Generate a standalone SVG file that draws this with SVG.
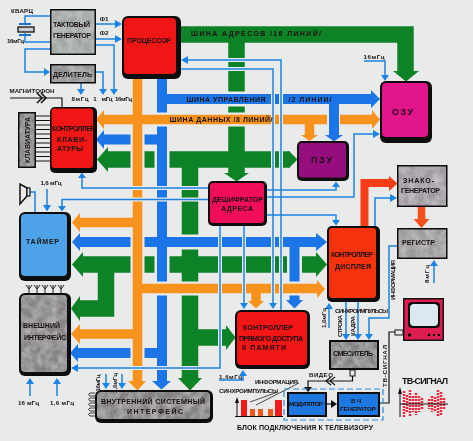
<svg xmlns="http://www.w3.org/2000/svg" width="473" height="441" viewBox="0 0 473 441">
<style>
text{font-family:"Liberation Sans",Arial,sans-serif;font-weight:bold;font-size:7px;fill:#1a1214;text-anchor:middle}
.s{font-size:6.200px}
.m{font-size:9px}
.g{fill:none;stroke:#118226;stroke-width:16.500}
.bl{fill:none;stroke:#1c74e6;stroke-width:10}
.or{fill:none;stroke:#f7931e;stroke-width:9.500}
.hg{fill:none;stroke:#e9eaea;stroke-width:15}
.ho{fill:none;stroke:#e9eaea;stroke-width:14}
.ag{fill:#118226}.ab{fill:#1c74e6}.ao{fill:#f7931e}
.t{fill:none;stroke:#1d84e4;stroke-width:1.500}
.th{fill:none;stroke:#e9eaea;stroke-width:4}
.at{fill:#1d84e4}
.k{fill:none;stroke:#111;stroke-width:1.200}
.o{fill:#0c0c0c}
.gray{filter:url(#mottle)}
</style>
<defs>
<filter id="soft" x="0" y="0" width="100%" height="100%"><feGaussianBlur stdDeviation="0.350"/></filter>
<filter id="mottle" x="0" y="0" width="100%" height="100%">
<feTurbulence type="fractalNoise" baseFrequency="0.120" numOctaves="3" seed="4" result="n"/>
<feColorMatrix in="n" type="matrix" values="0 0 0 0 0.850  0 0 0 0 0.830  0 0 0 0 0.850  0.700 0 0 0 -0.220" result="c"/>
<feComposite in="c" in2="SourceGraphic" operator="atop"/>
</filter>
</defs>
<rect width="473" height="441" fill="#e9eaea"/>
<g filter="url(#soft)">
<g id="connectors">
<g>
<path class="g" d="M181 34.500H405.500V72"/>
<path class="g" d="M236.500 34V174"/>
<path class="g" d="M108 159.500H290"/>
<path class="g" d="M190 167V379"/>
<path class="g" d="M83 264.500H317"/>
<path class="g" d="M106 272V308.500H80"/>
<path class="g" d="M198 337.500H227"/>
<polygon class="ag" points="393,71 419,71 406,81.500"/>
<polygon class="ag" points="224,173 249,173 236.500,181.500"/>
<polygon class="ag" points="108,147 108,172 97,159.500"/>
<polygon class="ag" points="289,151 289,168 297.500,159.500"/>
<polygon class="ag" points="83,252 83,277 72,264.500"/>
<polygon class="ag" points="316,252 316,277 327,264.500"/>
<polygon class="ag" points="80,296 80,321 71,308.500"/>
<polygon class="ag" points="226,325 226,350 235.500,337.500"/>
<polygon class="ag" points="178,378 202,378 190,390.500"/>
</g>
<g>
<path class="hg" d="M162 79V381M104 139.500H162M80 242H317M294.500 247V282M294.500 295V301M162 99H372M334 103V136M78 353H162"/>
<path class="bl" d="M162 79V381"/>
<path class="bl" d="M162 99H372"/>
<path class="bl" d="M334 99V136"/>
<path class="bl" d="M104 139.500H162"/>
<path class="bl" d="M80 242H317"/>
<path class="bl" d="M294.500 242V282"/>
<path class="bl" d="M294.500 295V301"/>
<path class="bl" d="M78 353H162"/>
<polygon class="ab" points="371,90 371,108 380,99"/>
<polygon class="ab" points="325,135 343,135 334,141.500"/>
<polygon class="ab" points="104,130 104,149 96,139.500"/>
<polygon class="ab" points="80,233 80,251 72,242"/>
<polygon class="ab" points="316,233 316,251 327,242"/>
<polygon class="ab" points="78,344 78,362 70,353"/>
<polygon class="ab" points="286,300 303,300 294.500,308.500"/>
<polygon class="ab" points="152,381 171,381 161.500,389.500"/>
</g>
<g>
<path class="ho" d="M137.500 79V382M104 119.500H327M340 119.500H372M80 222.500H137.500M137.500 288.500H317M80 334H137.500M256 293V301M309.500 124V135"/>
<path class="or" d="M137.500 79V382"/>
<path class="or" d="M104 119.500H327"/>
<path class="or" d="M340 119.500H372"/>
<path class="or" d="M309.500 119.500V135"/>
<path class="or" d="M80 222.500H137.500"/>
<path class="or" d="M137.500 288.500H318"/>
<path class="or" d="M80 334H137.500"/>
<path class="or" d="M256 288.500V301"/>
<polygon class="ao" points="104,110 104,129 96,119.500"/>
<polygon class="ao" points="372,110 372,129 380,119.500"/>
<polygon class="ao" points="301,135 318,135 309.500,141"/>
<polygon class="ao" points="80,213 80,232 72,222.500"/>
<polygon class="ao" points="317,280 317,298 325,289"/>
<polygon class="ao" points="80,324 80,344 71,334"/>
<polygon class="ao" points="248,301 264,301 256,308.500"/>
<polygon class="ao" points="128,381 146,381 137.500,390.500"/>
</g>
<path d="M364.500 226V183H390" fill="none" stroke="#f53c14" stroke-width="8"/>
<polygon points="389,176 389,191 397.500,183.500" fill="#f53c14"/>
<path d="M421.500 207V221" fill="none" stroke="#f5501e" stroke-width="7.500"/>
<polygon points="413.500,219 429.500,219 421.500,228" fill="#f5501e"/>
<g>
<path class="th" d="M208 188H82V178M208 199.500H62V206M220 226V368H76M244 226V303M267 190H336M267 197H354V134H374M267 215H336V220M181 60H281V310M181 69H273V303"/>
<path class="t" d="M208 188H82V178"/>
<path class="t" d="M208 199.500H62V206"/>
<path class="t" d="M220 226V368H76"/>
<path class="t" d="M244 226V303"/>
<path class="t" d="M267 190H336V187"/>
<path class="t" d="M267 197H354V134H374"/>
<path class="t" d="M267 215H336V220"/>
<path class="t" d="M186 60H281V310"/>
<path class="t" d="M181 69H273V303"/>
<path class="t" d="M364 61H385V76"/>
<path class="t" d="M25 23V16H50M25 33V42H50"/>
<path class="t" d="M50 49H25V72H44"/>
<path class="t" d="M96 24H116M96 39H116"/>
<path class="t" d="M81 83V90"/>
<path class="t" d="M96 72H103V90"/>
<path class="t" d="M96 45H114V90"/>
<path class="t" d="M30 192H35V212"/>
<path class="t" d="M47 189V206"/>
<path class="t" d="M30 396V383M57 396V383"/>
<path class="t" d="M106 374V384M122 374V384"/>
<path class="t" d="M219 380H243V375"/>
<path class="t" d="M375 226V198H391"/>
<path class="t" d="M397 246H389V318H369V335"/>
<path class="t" d="M434 283V265"/>
<path class="t" d="M329 328V308"/>
<path class="t" d="M346 302V335M358 302V335"/>
<polygon class="at" points="78,178 86,178 82,172.500"/>
<polygon class="at" points="58,206 66,206 62,211.500"/>
<polygon class="at" points="78,364 78,372 71,368"/>
<polygon class="at" points="240,303 248,303 244,309"/>
<polygon class="at" points="269,303 277,303 273,309"/>
<polygon class="at" points="332,187 340,187 336,181.500"/>
<polygon class="at" points="332,220 340,220 336,225.500"/>
<polygon class="at" points="373,130 373,138 380,134"/>
<polygon class="at" points="188,56 188,64 181,60"/>
<polygon class="at" points="381,75 389,75 385,81"/>
<polygon class="at" points="44,68 44,76 50,72"/>
<polygon class="at" points="115,20 115,28 122,24"/>
<polygon class="at" points="115,35 115,43 122,39"/>
<polygon class="at" points="77,89 85,89 81,95"/>
<polygon class="at" points="99,89 107,89 103,95"/>
<polygon class="at" points="110,89 118,89 114,95"/>
<polygon class="at" points="43,205 51,205 47,211.500"/>
<polygon class="at" points="26,384 34,384 30,378"/>
<polygon class="at" points="53,384 61,384 57,378"/>
<polygon class="at" points="102,383 110,383 106,389"/>
<polygon class="at" points="118,383 126,383 122,389"/>
<polygon class="at" points="239,376 247,376 243,370"/>
<polygon class="at" points="390,194 390,202 397,198"/>
<polygon class="at" points="365,334 373,334 369,340"/>
<polygon class="at" points="430,266 438,266 434,260"/>
<polygon class="at" points="325,309 333,309 329,303"/>
<polygon class="at" points="342,334 350,334 346,340"/>
<polygon class="at" points="354,334 362,334 358,340"/>
</g>
<g>
<path class="k" d="M10 98H62V107"/>
<path d="M37 93L42 98L37 103M41 93L46 98L41 103" fill="none" stroke="#111" stroke-width="1.500"/>
<path class="k" d="M36 116H50M36 120.500H50M36 125H50M36 129.500H50M36 134H50M36 138.500H50M36 143H50M36 147.500H50M36 152H50M36 156.500H50M36 161H50"/>
<path class="k" d="M352.500 376V381H308V388"/>
<path d="M331 377L326 381L331 385M335 377L330 381L335 385" fill="none" stroke="#111" stroke-width="1.200"/>
<polygon points="304,387 312,387 308,392" fill="#111"/>
<path class="k" d="M327 404H332"/>
<polygon points="331,400 331,408 337,404" fill="#111"/>
<path class="k" d="M395 332H389V403H380"/>
<path d="M250 402L278 392M256 405L299 383" fill="none" stroke="#222" stroke-width="0.800"/>
<path d="M29 285V293M26 285L29 289L32 285M37 285V293M34 285L37 289L40 285M45 285V293M42 285L45 289L48 285M53 285V293M50 285L53 289L56 285M61 285V293M58 285L61 289L64 285" fill="none" stroke="#222" stroke-width="1"/>
<path d="M95 393H90Q87 394 90 396H95M95 398H90Q87 399 90 401H95M95 403H90Q87 404 90 406H95M95 408H90Q87 409 90 411H95M95 413H90Q87 414 90 416H95" fill="none" stroke="#222" stroke-width="0.900"/>
</g>
<rect x="284" y="389" width="99" height="31" fill="none" stroke="#2a8ae0" stroke-width="1.200" stroke-dasharray="6 3"/>
<g>
<text x="256" y="36" textLength="130">ШИНА АДРЕСОВ /16 ЛИНИЙ/</text>
<text x="226" y="101.500" textLength="79">ШИНА УПРАВЛЕНИЯ</text>
<text x="310" y="101.500" textLength="43">/2 ЛИНИИ/</text>
<text x="221" y="121.500" textLength="103">ШИНА ДАННЫХ /8 ЛИНИЙ/</text>
</g>
</g>
<g id="kvarc">
<rect x="18" y="27" width="16" height="5" fill="#c9cfd2" stroke="#111" stroke-width="1.300"/>
<path d="M19 24H31M19 35H31" stroke="#1d6fd0" stroke-width="2" fill="none"/>
<text x="22" y="12.500" class="s" textLength="22">КВАРЦ</text>
<text x="15.500" y="43" class="s" textLength="17">16мГц</text>
</g>
<g id="taktovy-generator">
<rect x="50" y="9" width="46" height="46" class="o"/>
<rect x="51.500" y="10.500" width="43" height="43" fill="#a0a6a4" class="gray"/>
<text x="71.500" y="26.700" textLength="37">ТАКТОВЫЙ</text>
<text x="72" y="37.700" textLength="38">ГЕНЕРАТОР</text>
</g>
<g id="delitel">
<rect x="50" y="64" width="46" height="19.500" class="o"/>
<rect x="51.500" y="65.500" width="43" height="16.500" fill="#929292" class="gray"/>
<text x="72.500" y="76.700" textLength="39">ДЕЛИТЕЛЬ</text>
</g>
<g id="processor">
<rect x="122" y="16" width="59" height="63" rx="6" class="o"/>
<rect x="124" y="18" width="52" height="56" rx="4" fill="#f01414"/>
<text x="149" y="42.700" textLength="44">ПРОЦЕССОР</text>
</g>
<g id="keyboard-controller">
<rect x="50" y="107" width="47" height="66" rx="5" class="o"/>
<rect x="51.500" y="108.500" width="41.500" height="59.500" rx="3" fill="#f01414"/>
<text x="73.500" y="130.700" textLength="43">КОНТРОЛЛЕР</text>
<text x="72" y="141.700" textLength="30">КЛАВИ-</text>
<text x="70" y="150.700" textLength="26">АТУРЫ</text>
</g>
<g id="keyboard">
<rect x="18" y="112" width="18" height="56" class="o"/>
<rect x="19.500" y="113.500" width="15" height="53" fill="#858585" class="gray"/>
<text transform="translate(29.500,140) rotate(-90)" textLength="46">КЛАВИАТУРА</text>
</g>
<g id="ozu">
<rect x="380" y="81" width="52" height="62" rx="6" class="o"/>
<rect x="382" y="83" width="46" height="54" rx="4" fill="#e0128a"/>
<text x="402.500" y="114.500" class="m" textLength="21">ОЗУ</text>
</g>
<g id="pzu">
<rect x="297" y="141" width="52" height="40" rx="5" class="o"/>
<rect x="299" y="143" width="47" height="34.500" rx="3" fill="#96107e"/>
<text x="321.500" y="162.500" class="m" textLength="21">ПЗУ</text>
</g>
<g id="deshifrator">
<rect x="208" y="181" width="59" height="45" rx="5" class="o"/>
<rect x="210" y="183" width="54" height="40" rx="3" fill="#f0105a"/>
<text x="237.500" y="201.700" textLength="51">ДЕШИФРАТОР</text>
<text x="237" y="210.700" textLength="32">АДРЕСА</text>
</g>
<g id="znakogenerator">
<rect x="397" y="165" width="50.500" height="42" class="o"/>
<rect x="398.500" y="166.500" width="47.500" height="39" fill="#a09aa0" class="gray"/>
<text x="418.500" y="182.700" textLength="31">ЗНАКО-</text>
<text x="420.500" y="192.700" textLength="39">ГЕНЕРАТОР</text>
</g>
<g id="registr">
<rect x="397" y="228" width="50.500" height="31" class="o"/>
<rect x="398.500" y="229.500" width="47.500" height="28" fill="#9c9a9c" class="gray"/>
<text x="418.500" y="244.700" textLength="33">РЕГИСТР</text>
</g>
<g id="display-controller">
<rect x="327" y="226" width="53" height="76" rx="5" class="o"/>
<rect x="329" y="228" width="47" height="70" rx="3" fill="#f4300c"/>
<text x="352" y="256.700" textLength="42">КОНТРОЛЛЕР</text>
<text x="353" y="268.700" textLength="36">ДИСПЛЕЯ</text>
</g>
<g id="timer">
<rect x="19" y="212" width="52" height="69" rx="6" class="o"/>
<rect x="21" y="214" width="46" height="62" rx="4" fill="#4da2e8"/>
<text x="42.500" y="243.700" textLength="33">ТАЙМЕР</text>
</g>
<g id="speaker">
<path d="M27 188L20 184V204L27 196Z" fill="#e9eaea" stroke="#111" stroke-width="1.500"/>
<rect x="27" y="188" width="3" height="8" fill="#e9eaea" stroke="#111" stroke-width="1.200"/>
</g>
<g id="external-interface">
<rect x="19" y="293" width="52" height="83" rx="6" class="o"/>
<rect x="21" y="295" width="46" height="77" rx="4" fill="#868386" class="gray"/>
<text x="41.500" y="327.700" textLength="37">ВНЕШНИЙ</text>
<text x="45" y="339.700" textLength="42">ИНТЕРФЕЙС</text>
</g>
<g id="internal-interface">
<rect x="95" y="390" width="118" height="33" rx="6" class="o"/>
<rect x="97" y="392" width="113" height="27" rx="4" fill="#828082" class="gray"/>
<text x="153" y="403.700" textLength="104">ВНУТРЕННИЙ СИСТЕМНЫЙ</text>
<text x="155" y="413.700" textLength="56">ИНТЕРФЕЙС</text>
</g>
<g id="dma-controller">
<rect x="235" y="310" width="75" height="59" rx="6" class="o"/>
<rect x="237" y="312" width="70" height="53" rx="4" fill="#f21212"/>
<text x="268" y="329.700" textLength="50">КОНТРОЛЛЕР</text>
<text x="271" y="340.700" textLength="64">ПРЯМОГО ДОСТУПА</text>
<text x="264" y="349.700" textLength="44">К ПАМЯТИ</text>
</g>
<g id="mixer">
<rect x="329" y="340" width="50" height="30" class="o"/>
<rect x="331" y="342" width="46" height="26" fill="#828282" class="gray"/>
<rect x="350" y="370" width="5" height="6" fill="#e9eaea" stroke="#111" stroke-width="1"/>
<text x="353" y="355.700" textLength="40">СМЕСИТЕЛЬ</text>
</g>
<g id="modulator">
<rect x="287" y="392" width="40" height="25" class="o"/>
<rect x="289" y="394" width="36" height="21" fill="#1c78de"/>
<text x="306" y="405.500" class="s" textLength="34">МОДУЛЯТОР</text>
</g>
<g id="vch-generator">
<rect x="337" y="392" width="43" height="25" class="o"/>
<rect x="339" y="394" width="39" height="21" fill="#1c78de"/>
<text x="356" y="402.500" class="s" textLength="10">ВЧ</text>
<text x="358" y="410.500" class="s" textLength="36">ГЕНЕРАТОР</text>
</g>
<g id="tv">
<rect x="403" y="298" width="41" height="43" fill="#141414"/>
<rect x="404.500" y="299.500" width="38" height="40" fill="#de1e50"/>
<rect x="408" y="302" width="32" height="26" rx="4" fill="#111"/>
<rect x="410" y="304" width="28" height="22" rx="4" fill="#dce9f0"/>
<circle cx="409.500" cy="335" r="1.800" fill="#111"/>
<circle cx="429" cy="335" r="1.300" fill="#111"/><circle cx="434" cy="335" r="1.300" fill="#111"/><circle cx="439" cy="335" r="1.300" fill="#111"/>
<rect x="395" y="330" width="8" height="5" fill="#e9eaea" stroke="#111" stroke-width="1"/>
</g>
<g id="sync-chart">
<path d="M237 417V402" fill="none" stroke="#111" stroke-width="1"/>
<polygon points="235,403 239,403 237,397" fill="#111"/>
<path d="M235 416.500H283" stroke="#111" stroke-width="1" fill="none"/>
<rect x="241" y="400" width="6" height="16" fill="#ee1c1c"/>
<rect x="250" y="409" width="5" height="7" fill="#f05a14"/>
<rect x="258" y="409" width="5" height="7" fill="#f05a14"/>
<rect x="268" y="409" width="5" height="7" fill="#f05a14"/>
<rect x="275" y="400" width="7" height="16" fill="#ee1c1c"/>
</g>
<g id="tv-signal">
<path d="M400 417V392" stroke="#111" stroke-width="1" fill="none"/>
<polygon points="398,394 402,394 400,387" fill="#111"/>
<path d="M404 391V417M407 395V413M410 390V417M413 396V412M416 393V415M419 396V412M422 398V410M429 399V409M432 396V412M435 397V411M438 390V417M441 392V416M444 398V410" stroke="#e8283c" stroke-width="2.500" stroke-dasharray="2 1" fill="none"/>
<path d="M400 404H448" stroke="#111" stroke-width="1.200" fill="none"/>
</g>
<g id="labels">
<text x="104" y="20.500" class="s">Ф1</text>
<text x="104" y="34.500" class="s">Ф2</text>
<text x="80" y="101" class="s" textLength="17">8мГц</text>
<text x="95" y="101" class="s">1</text>
<text x="107" y="101" class="s" textLength="11">мГц</text>
<text x="123.500" y="101" class="s" textLength="17">16мГц</text>
<text x="32" y="93" class="s" textLength="45">МАГНИТОФОН</text>
<text x="374" y="59" class="s" textLength="21">16мГц</text>
<text x="51" y="185" class="s" textLength="21">1,6 мГц</text>
<text x="28.500" y="405" class="s" textLength="21">16 мГц</text>
<text x="62" y="405" class="s" textLength="24">1,6 мГц</text>
<text transform="translate(100,383) rotate(-90)" class="s" textLength="17">16мГц</text>
<text transform="translate(117,383) rotate(-90)" class="s" textLength="20">1,6мГц</text>
<text x="230.500" y="379" class="s" textLength="23">1,6мГц</text>
<text x="248.500" y="392.500" class="s" textLength="59">СИНХРОИМПУЛЬСЫ</text>
<text x="276.500" y="383.500" class="s" textLength="43">ИНФОРМАЦИЯ</text>
<text transform="translate(325.500,318) rotate(-90)" class="s" textLength="20">1,6мГц</text>
<text x="361.500" y="312.500" class="s" textLength="53">СИНХРОИМПУЛЬСЫ</text>
<text transform="translate(341.500,326) rotate(-90)" class="s" textLength="22">СТРОКА</text>
<text transform="translate(355,326) rotate(-90)" class="s" textLength="20">КАДРА</text>
<text transform="translate(395,280) rotate(-90)" class="s" textLength="40">ИНФОРМАЦИЯ</text>
<text transform="translate(429,274) rotate(-90)" class="s" textLength="18">8мГц</text>
<text x="321" y="376.500" class="s" textLength="24">ВИДЕО</text>
<text transform="translate(386.500,366) rotate(-90)" class="s" textLength="42">ТВ-СИГНАЛ</text>
<text x="425" y="383.500" class="m" textLength="46">ТВ-СИГНАЛ</text>
<text x="305" y="429.500" textLength="136">БЛОК ПОДКЛЮЧЕНИЯ К ТЕЛЕВИЗОРУ</text>
</g>
</g>
</svg>
